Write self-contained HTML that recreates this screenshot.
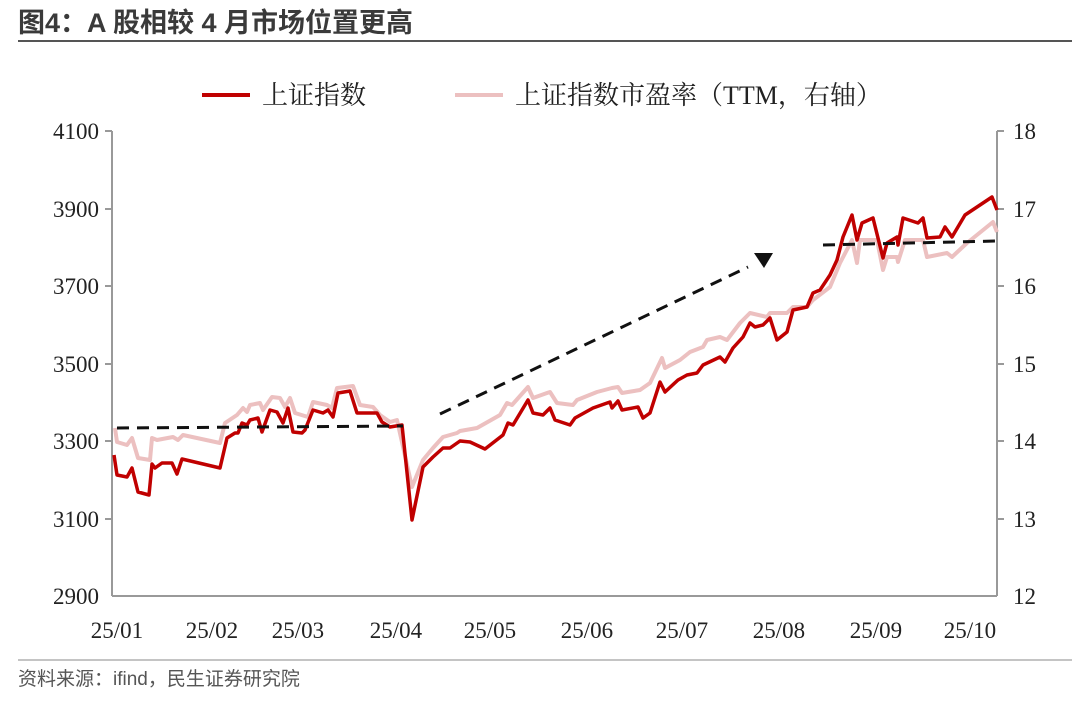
<!DOCTYPE html>
<html><head><meta charset="utf-8"><style>
body{margin:0;background:#fff;width:1080px;height:699px;overflow:hidden}
svg text{font-family:"Liberation Serif","Noto Serif CJK SC",serif}
</style></head><body>
<svg width="1080" height="699" xmlns="http://www.w3.org/2000/svg">
<text x="18" y="32" style="font-family:'Liberation Sans','Noto Sans CJK SC',sans-serif;font-weight:bold" font-size="27" fill="#3a3a3a">图4：A 股相较 4 月市场位置更高</text>
<line x1="18" y1="41" x2="1072" y2="41" stroke="#555" stroke-width="2"/>
<line x1="18" y1="660" x2="1072" y2="660" stroke="#888" stroke-width="1"/>
<text x="18" y="685" style="font-family:'Liberation Sans','Noto Sans CJK SC',sans-serif" font-size="19" fill="#555">资料来源：ifind，民生证券研究院</text>
<line x1="202" y1="95" x2="250" y2="95" stroke="#c00000" stroke-width="4"/>
<text x="262" y="104" font-size="26" fill="#222">上证指数</text>
<line x1="455" y1="95" x2="503" y2="95" stroke="#ecc0c0" stroke-width="4"/>
<text x="515" y="104" font-size="26" fill="#222">上证指数市盈率（TTM，右轴）</text>
<g stroke="#999" stroke-width="2">
<line x1="112" y1="131" x2="112" y2="596"/>
<line x1="997" y1="131" x2="997" y2="596"/>
<line x1="112" y1="596" x2="997" y2="596"/>
<line x1="105" y1="131" x2="112" y2="131"/><line x1="105" y1="209" x2="112" y2="209"/><line x1="105" y1="286" x2="112" y2="286"/><line x1="105" y1="364" x2="112" y2="364"/><line x1="105" y1="441" x2="112" y2="441"/><line x1="105" y1="519" x2="112" y2="519"/>
<line x1="997" y1="131" x2="1004" y2="131"/><line x1="997" y1="209" x2="1004" y2="209"/><line x1="997" y1="286" x2="1004" y2="286"/><line x1="997" y1="364" x2="1004" y2="364"/><line x1="997" y1="441" x2="1004" y2="441"/><line x1="997" y1="519" x2="1004" y2="519"/>
</g>
<g font-size="23" fill="#222" text-anchor="end">
<text x="99" y="139">4100</text><text x="99" y="217">3900</text><text x="99" y="294">3700</text><text x="99" y="372">3500</text><text x="99" y="449">3300</text><text x="99" y="527">3100</text><text x="99" y="604">2900</text>
</g>
<g font-size="23" fill="#222">
<text x="1013" y="139">18</text><text x="1013" y="217">17</text><text x="1013" y="294">16</text><text x="1013" y="372">15</text><text x="1013" y="449">14</text><text x="1013" y="527">13</text><text x="1013" y="604">12</text>
</g>
<g font-size="23" fill="#222" text-anchor="middle">
<text x="117" y="638">25/01</text><text x="212" y="638">25/02</text><text x="298" y="638">25/03</text><text x="396" y="638">25/04</text><text x="490" y="638">25/05</text><text x="587" y="638">25/06</text><text x="682" y="638">25/07</text><text x="779" y="638">25/08</text><text x="876" y="638">25/09</text><text x="970" y="638">25/10</text>
</g>
<polyline fill="none" stroke="#ecc0c0" stroke-width="4" stroke-linejoin="round" points="115,428 117,442 127,445 132,438 138,458 150,460 152,438 157,440 173,437 178,440 183,435 220,443 225,423 237,415 243,408 247,412 250,405 260,403 263,410 272,397 280,398 285,407 290,398 295,413 308,417 313,402 327,405 332,408 337,388 353,386 360,405 373,407 380,415 390,422 397,420 412,487 423,460 433,448 443,437 457,433 460,431 477,428 500,415 507,403 512,405 528,387 533,398 547,393 550,392 557,403 573,405 577,400 597,392 612,388 618,387 622,393 640,390 650,383 662,358 665,368 680,360 690,352 703,347 707,340 720,337 727,340 740,323 750,313 767,317 770,313 787,313 793,307 807,307 813,300 830,287 840,263 852,240 857,263 860,240 877,240 883,270 887,257 897,257 898,262 905,240 923,240 927,257 947,253 952,257 967,243 993,222 997,232"/>
<polyline fill="none" stroke="#c00000" stroke-width="3.5" stroke-linejoin="round" points="114,455 117,475 127,477 132,468 138,492 149,495 152,464 155,468 162,463 172,463 177,474 182,459 220,468 227,438 235,433 238,433 242,423 247,425 250,420 258,418 262,432 270,410 277,412 283,423 288,408 293,432 302,433 305,430 313,410 323,413 328,410 333,417 338,393 350,391 357,413 367,413 377,413 382,422 390,427 402,425 412,520 423,467 433,457 443,448 450,448 460,441 470,442 485,449 503,435 508,423 513,425 528,400 533,413 543,415 550,408 555,420 570,425 575,418 593,408 610,402 612,408 618,401 622,410 638,407 643,418 650,413 660,382 665,392 678,380 687,375 697,373 703,365 720,357 725,362 733,348 743,337 750,323 755,327 763,325 770,318 777,340 787,332 793,310 807,307 813,293 820,290 830,275 837,260 843,237 852,215 857,240 862,223 873,218 883,258 887,243 897,237 898,245 903,218 918,223 923,218 927,238 940,237 945,227 952,237 965,215 992,197 997,210"/>
<g stroke="#111" stroke-width="3" stroke-dasharray="12,8" fill="none">
<line x1="117" y1="428" x2="403" y2="426"/>
<line x1="440" y1="414" x2="748" y2="267"/>
<line x1="823" y1="245" x2="997" y2="241"/>
</g>
<polygon points="754,253 773,253 764,268" fill="#111"/>
</svg>
</body></html>
